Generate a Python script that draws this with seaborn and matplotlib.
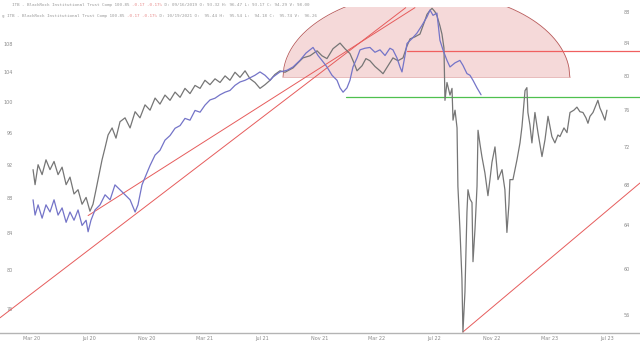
import numpy as np
import pandas as pd
import matplotlib
matplotlib.use('Agg')
import matplotlib.pyplot as plt
from matplotlib.ticker import FixedLocator, NullLocator, FixedFormatter
import seaborn as sns

sns.set_theme(style='white')
plt.rcParams['font.family'] = ['DejaVu Sans']

# x = months since Jan 2020
gray_t = [2.07, 2.21, 2.42, 2.70, 2.97, 3.25, 3.53, 3.81, 4.09, 4.37,
          4.64, 4.92, 5.20, 5.48, 5.76, 6.03, 6.24, 6.45, 6.66, 6.87,
          7.08, 7.29, 7.57, 7.84, 8.12, 8.47, 8.82, 9.17, 9.51, 9.86,
          10.21, 10.56, 10.90, 11.25, 11.60, 11.95, 12.30, 12.64, 12.99, 13.34,
          13.69, 14.03, 14.38, 14.73, 15.08, 15.43, 15.77, 16.12, 16.47, 16.82,
          17.17, 17.51, 17.86, 18.21, 18.56, 18.90, 19.25, 19.60, 20.16, 20.50,
          20.85, 21.34, 21.83, 22.17, 22.52, 22.94, 23.43, 23.77, 24.12, 24.40,
          24.61, 24.96, 25.23, 25.51, 25.86, 26.21, 26.42, 26.77, 27.11, 27.46,
          27.81, 28.09, 28.30, 28.64, 28.99, 29.27, 29.48, 29.69, 29.83, 30.03,
          30.17, 30.38, 30.52, 30.66, 30.73, 30.87, 31.08, 31.22, 31.29, 31.43,
          31.57, 31.63, 31.77, 31.91, 31.98, 32.12, 32.26, 32.33, 32.47, 32.61,
          32.68, 32.82, 32.96, 33.03, 33.17, 33.30, 33.51, 33.72, 33.86, 34.00,
          34.21, 34.42, 34.56, 34.70, 34.90, 35.04, 35.18, 35.25, 35.46, 35.74,
          35.95, 36.09, 36.30, 36.43, 36.50, 36.64, 36.78, 36.99, 37.20, 37.48,
          37.69, 37.90, 38.17, 38.38, 38.59, 38.73, 39.01, 39.22, 39.43, 39.70,
          39.91, 40.12, 40.33, 40.54, 40.68, 40.82, 41.03, 41.24, 41.37, 41.51,
          41.65, 41.86, 42.00]
gray_price = [91.4, 89.6, 92.0, 90.8, 92.6, 91.4, 92.4, 90.8, 91.7, 89.6,
              90.5, 88.5, 89.0, 87.3, 88.1, 86.5, 87.3, 89.0, 90.8, 92.6,
              94.1, 95.7, 96.6, 95.3, 97.4, 97.9, 96.6, 98.7, 97.9, 99.6,
              98.9, 100.5, 99.7, 100.9, 100.2, 101.3, 100.6, 101.8, 101.1, 102.2,
              101.8, 102.9, 102.3, 103.1, 102.6, 103.5, 102.9, 104.0, 103.3, 104.2,
              103.1, 102.6, 101.8, 102.3, 102.9, 103.7, 104.2, 104.0, 104.6, 105.3,
              106.0, 106.3, 107.0, 106.3, 105.9, 107.3, 108.1, 107.3, 106.6, 105.3,
              104.2, 104.9, 105.9, 105.6, 104.8, 104.2, 103.8, 104.9, 106.0, 105.6,
              106.0, 107.7, 108.7, 109.0, 109.4, 111.0, 112.3, 112.9, 113.2, 112.7,
              112.1, 110.6, 109.4, 107.4, 100.2, 102.6, 100.9, 101.8, 97.6, 98.9,
              96.6, 89.4, 84.5, 79.1, 73.7, 77.7, 86.4, 89.0, 87.9, 87.5,
              80.9, 84.5, 89.4, 96.3, 94.5, 93.0, 91.0, 88.3, 90.2, 92.3,
              94.2, 90.2, 90.8, 91.4, 89.0, 84.1, 87.3, 90.2, 90.2, 92.6,
              94.7, 96.8, 101.5, 101.9, 98.6, 97.0, 94.7, 98.6, 96.0, 93.0,
              95.1, 98.1, 95.5, 94.7, 95.7, 95.5, 96.6, 96.0, 98.6, 98.9,
              99.3, 98.7, 98.6, 97.9, 97.2, 98.1, 98.6, 99.6, 100.2, 99.2,
              98.6, 97.6, 98.9]

blue_t = [2.07, 2.21, 2.42, 2.70, 2.97, 3.25, 3.53, 3.81, 4.09, 4.37,
          4.64, 4.92, 5.20, 5.48, 5.76, 5.90, 6.10, 6.38, 6.73, 7.08,
          7.43, 7.77, 8.12, 8.47, 8.82, 9.17, 9.37, 9.65, 9.93, 10.21,
          10.56, 10.90, 11.25, 11.60, 11.95, 12.30, 12.64, 12.99, 13.34, 13.69,
          14.03, 14.38, 14.73, 15.08, 15.43, 15.77, 16.12, 16.47, 16.82, 17.17,
          17.51, 17.86, 18.21, 18.56, 18.77, 19.25, 19.74, 20.16, 20.64, 21.06,
          21.55, 21.90, 22.17, 22.52, 22.87, 23.22, 23.43, 23.64, 23.91, 24.12,
          24.33, 24.61, 24.82, 25.16, 25.51, 25.86, 26.21, 26.56, 26.90, 27.11,
          27.39, 27.60, 27.74, 27.95, 28.09, 28.43, 28.78, 29.13, 29.48, 29.69,
          29.90, 30.17, 30.38, 30.59, 30.87, 31.08, 31.43, 31.77, 31.98, 32.26,
          32.47, 32.68, 32.96, 33.24]
blue_price = [66.5, 65.0, 66.0, 64.7, 66.0, 65.3, 66.5, 65.0, 65.7, 64.3,
              65.3, 64.5, 65.5, 64.0, 64.5, 63.4, 64.5, 65.5, 66.0, 67.0,
              66.5, 68.0, 67.5, 67.0, 66.5, 65.3, 66.0, 68.0, 69.0, 70.0,
              71.1, 71.6, 72.7, 73.2, 74.0, 74.3, 75.1, 74.9, 76.0, 75.8,
              76.6, 77.2, 77.4, 77.8, 78.1, 78.3, 78.9, 79.3, 79.5, 79.8,
              80.1, 80.5, 80.1, 79.5, 79.9, 80.5, 80.7, 81.1, 81.9, 82.8,
              83.5, 82.5, 81.9, 81.1, 80.1, 79.5, 78.6, 78.1, 78.6, 79.5,
              81.1, 82.2, 83.2, 83.4, 83.5, 82.9, 83.2, 82.5, 83.4, 83.2,
              82.2, 81.1, 80.5, 82.5, 84.0, 84.6, 85.3, 86.3, 87.4, 88.3,
              87.6, 87.9, 84.4, 83.2, 81.9, 81.1, 81.6, 81.9, 81.3, 80.3,
              80.1, 79.5, 78.6, 77.8]

left_ticks = [76, 80, 84, 88, 92, 96, 100, 104, 108]
right_ticks = [56, 60, 64, 68, 72, 76, 80, 84, 88]
month_ticks = [2, 6, 10, 14, 18, 22, 26, 30, 34, 38, 42]
month_labels = ['Mar 20', 'Jul 20', 'Nov 20', 'Mar 21', 'Jul 21', 'Nov 21',
                'Mar 22', 'Jul 22', 'Nov 22', 'Mar 23', 'Jul 23']

# drawings (on the left price scale)
trend_a_t, trend_a_p = [-0.23, 28.0], [75.1, 113.3]
trend_b_t, trend_b_p = [5.90, 28.64], [86.0, 113.3]
trend_c_t, trend_c_p = [31.98, 44.30], [73.7, 89.8]
red_level, red_start = 107.0, 28.09
green_level, green_start = 100.6, 23.84
arc_center, arc_halfwidth, arc_base, arc_logheight = 29.44, 9.98, 103.3, 0.1132

header_1 = ['ITB - BlackRock Institutional Trust Comp 100.85 ', '-0.17 -0.17%',
            ' D: 09/16/2019 O: 93.32 H: 96.47 L: 93.17 C: 94.29 V: 98.00']
header_2 = ['g ITB - BlackRock Institutional Trust Comp 100.85 ', '-0.17 -0.17%',
            ' D: 10/19/2021 O:  95.44 H:  95.54 L:  94.18 C:  95.74 V:  96.26']

fig = plt.figure(figsize=(6.4, 3.45), dpi=100)
fig.patch.set_facecolor('white')
ax = fig.add_axes([0, 12 / 345, 1, 326 / 345])
ax.set_facecolor('white')
x_lo, x_hi = -0.23, 44.30

# pink half-ellipse
tt = np.linspace(arc_center - arc_halfwidth, arc_center + arc_halfwidth, 300)
arc = arc_base * np.exp(arc_logheight * np.sqrt(np.clip(1 - ((tt - arc_center) / arc_halfwidth) ** 2, 0, 1)))
ax.fill_between(tt, arc_base, arc, color='#f5d9d9', zorder=1, lw=0)
ax.plot(tt, arc, color='#b85a5a', lw=0.6, zorder=2)
ax.plot([tt[0], tt[-1]], [arc_base, arc_base], color='#e3b0b0', lw=0.5, zorder=2)

# lines
for t_, p_ in [(trend_a_t, trend_a_p), (trend_b_t, trend_b_p), (trend_c_t, trend_c_p)]:
    ax.plot(t_, p_, color='#e65c5c', lw=0.7, zorder=3)
ax.plot([red_start, x_hi], [red_level, red_level], color='#f06060', lw=0.9, zorder=3)
ax.plot([green_start, x_hi], [green_level, green_level], color='#4fc04f', lw=0.9, zorder=3)

df_gray = pd.DataFrame({'t': gray_t, 'price': gray_price})
sns.lineplot(data=df_gray, x='t', y='price', ax=ax, color='#767676', lw=0.9,
             estimator=None, zorder=4)

ax.set_yscale('log')
ax.set_xlim(x_lo, x_hi)
ax.set_ylim(73.6, 113.4)
ax.yaxis.set_major_locator(FixedLocator(left_ticks))
ax.yaxis.set_major_formatter(FixedFormatter([str(v) for v in left_ticks]))
ax.yaxis.set_minor_locator(NullLocator())
ax.set_xticks(month_ticks)
ax.set_xticklabels(month_labels)
ax.set_xlabel('')
ax.set_ylabel('')
ax.tick_params(axis='y', length=0, pad=-9, labelsize=3.5, labelcolor='#8a8a8a')
ax.tick_params(axis='x', length=0, pad=2, labelsize=3.5, labelcolor='#8a8a8a')
for s in ['top', 'left', 'right']:
    ax.spines[s].set_visible(False)
ax.spines['bottom'].set_color('#b4b4b4')
ax.spines['bottom'].set_linewidth(1.0)

ax2 = ax.twinx()
df_blue = pd.DataFrame({'t': blue_t, 'price': blue_price})
sns.lineplot(data=df_blue, x='t', y='price', ax=ax2, color='#7474c8', lw=0.9,
             estimator=None)
ax2.set_yscale('log')
ax2.set_ylim(54.5, 88.7)
ax2.yaxis.set_major_locator(FixedLocator(right_ticks))
ax2.yaxis.set_major_formatter(FixedFormatter([str(v) for v in right_ticks]))
ax2.yaxis.set_minor_locator(NullLocator())
ax2.set_ylabel('')
ax2.tick_params(axis='y', length=0, pad=-12, labelsize=3.5, labelcolor='#8a8a8a')
for s in ax2.spines.values():
    s.set_visible(False)
ax2.set_xlim(x_lo, x_hi)

# header lines, segments chained left to right
def header(parts, x0, y0):
    colors = ['#9a9a9a', '#e88a8a', '#9a9a9a']
    prev = fig.text(x0, y0, parts[0], fontsize=3.1, family='DejaVu Sans Mono',
                    color=colors[0], va='center', ha='left')
    for part, c in zip(parts[1:], colors[1:]):
        prev = ax.annotate(part, xy=(1, 0.5), xycoords=prev, va='center', ha='left',
                           fontsize=3.1, family='DejaVu Sans Mono', color=c,
                           annotation_clip=False)

header(header_1, 12 / 640, 1 - 5 / 345)
header(header_2, 2 / 640, 1 - 16 / 345)

fig.savefig('out.png', dpi=100)
